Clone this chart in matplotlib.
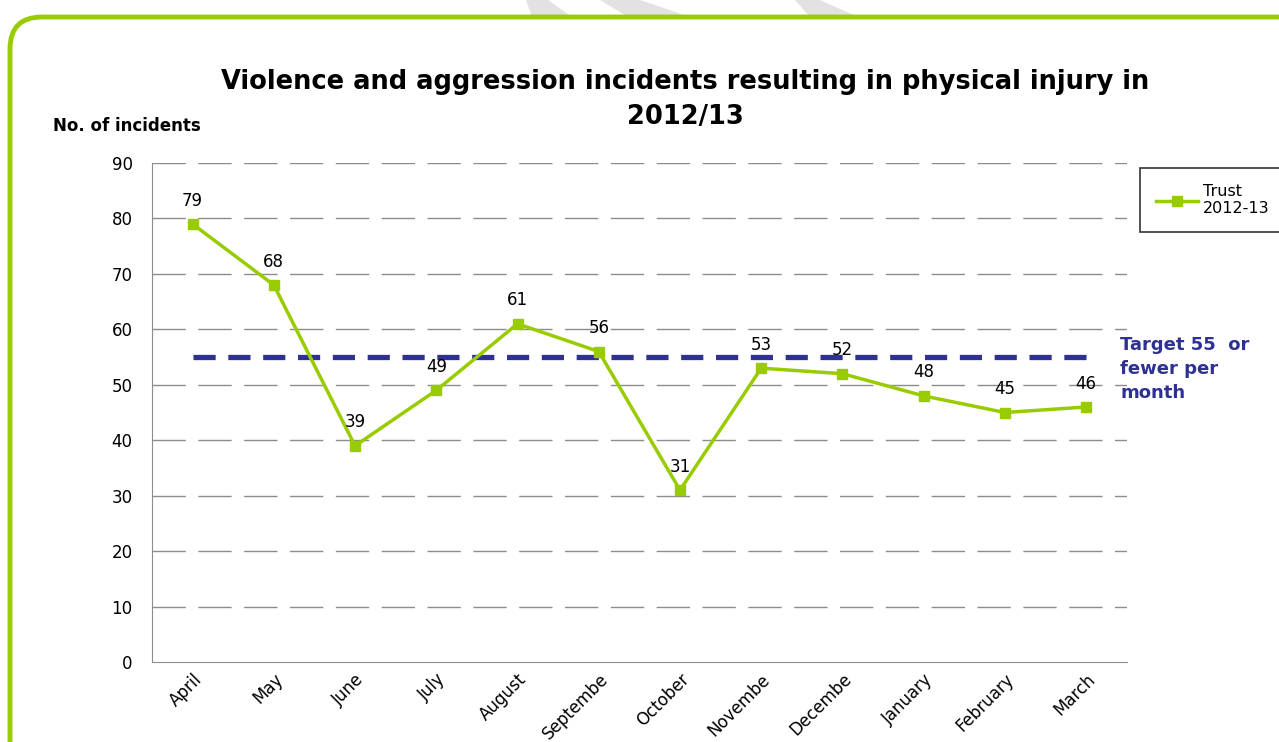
import matplotlib

matplotlib.use("Agg")
import matplotlib.pyplot as plt
from matplotlib.patches import FancyBboxPatch, Polygon

months = ["April", "May", "June", "July", "August", "Septembe", "October",
          "Novembe", "Decembe", "January", "February", "March"]
incidents = [79, 68, 39, 49, 61, 56, 31, 53, 52, 48, 45, 46]
target = 55
y_ticks = [0, 10, 20, 30, 40, 50, 60, 70, 80, 90]

GREEN = "#99CC00"
NAVY = "#2E3192"
W, H = 1279, 742

plt.rcParams["font.family"] = ["DejaVu Sans"]

fig = plt.figure(figsize=(12.79, 7.42), dpi=100)
ax = fig.add_axes([0.1188, 0.1078, 0.7622, 0.6725])

# faint grey shapes peeking in above the frame
for pts in [
    [(526, 0), (548, 0), (572, 17), (532, 17)],
    [(600, 0), (640, 0), (690, 17), (628, 17)],
    [(795, 0), (820, 0), (858, 17), (810, 17)],
]:
    fig.patches.append(Polygon([(px / W, 1 - py / H) for px, py in pts],
                               closed=True, transform=fig.transFigure,
                               facecolor="#e2e2e2", edgecolor="none"))

# rounded green frame around the whole chart
frame = FancyBboxPatch(
    (10 / W, -0.05), 1.05, 1 - 17 / H + 0.05,
    boxstyle="round,pad=0,rounding_size=0.025",
    transform=fig.transFigure, facecolor="none", edgecolor=GREEN,
    linewidth=3.5, clip_on=False, mutation_aspect=W / H,
)
fig.patches.append(frame)

x = list(range(len(months)))
for y in y_ticks[1:]:
    ax.axhline(y, color="#8c8c8c", linewidth=1, linestyle=(0, (24, 9)), zorder=1)

ax.plot(x, [target] * len(x), color=NAVY, linewidth=3.8,
        linestyle=(0, (4.2, 2.4)), zorder=2)
ax.plot(x, incidents, color=GREEN, linewidth=2.5, marker="s", markersize=7,
        label="Trust\n2012-13", zorder=3)

for xi, v in zip(x, incidents):
    ax.text(xi, v + 2.6, str(v), ha="center", va="bottom", fontsize=12)

ax.set_xlim(-0.5, len(months) - 0.5)
ax.set_ylim(0, 90)
ax.set_yticks(y_ticks)
ax.set_xticks(x)
ax.set_xticklabels(months, rotation=45, ha="right", rotation_mode="anchor",
                   fontsize=10.5)
ax.tick_params(axis="both", length=0, labelsize=12)
ax.tick_params(axis="y", pad=14)
ax.tick_params(axis="x", pad=6)
for side in ["top", "right"]:
    ax.spines[side].set_visible(False)
for side in ["left", "bottom"]:
    ax.spines[side].set_color("#8c8c8c")

fig.text(0.536, 0.866,
         "Violence and aggression incidents resulting in physical injury in\n2012/13",
         ha="center", va="center", fontsize=18.5, fontweight="bold", linespacing=1.45)
fig.text(53 / W, 1 - 126 / H, "No. of incidents", ha="left", va="center",
         fontsize=12, fontweight="bold")
fig.text(1120 / W, 1 - 369 / H, "Target 55  or\nfewer per\nmonth",
         ha="left", va="center", fontsize=13, fontweight="bold", color=NAVY,
         linespacing=1.45)

leg = ax.legend(loc="upper left", bbox_to_anchor=(1.014, 0.99), frameon=True,
                fancybox=False, fontsize=11.5, handlelength=2.6, borderpad=1.0,
                borderaxespad=0, handletextpad=0.3)
leg.get_frame().set_edgecolor("black")
leg.get_frame().set_linewidth(1.2)

fig.savefig("out.png", dpi=100)
